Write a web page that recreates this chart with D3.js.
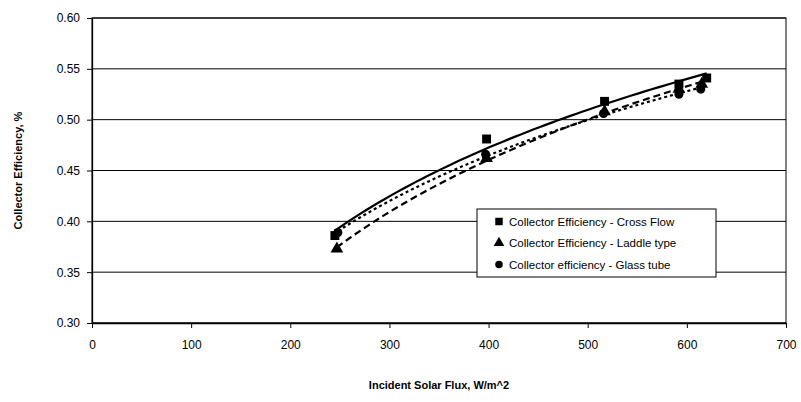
<!DOCTYPE html>
<html>
<head>
<meta charset="utf-8">
<script src="https://cdn.jsdelivr.net/npm/d3@7"></script>
<style>
  body { margin: 0; background: #fff; }
  text { font-family: "Liberation Sans", Arial, sans-serif; }
</style>
</head>
<body>
<div class="canvas"></div>
<script>
// data
const crossFlowFlux = [245, 398, 517, 592, 620];
const crossFlowEff = [0.386, 0.481, 0.518, 0.535, 0.541];
const laddleFlux = [247, 398, 517, 592, 615];
const laddleEff = [0.373, 0.462, 0.508, 0.530, 0.535];
const glassFlux = [248, 397, 516, 592, 614];
const glassEff = [0.389, 0.466, 0.506, 0.525, 0.530];

const seriesNames = [
  "Collector Efficiency - Cross Flow",
  "Collector Efficiency - Laddle type",
  "Collector efficiency - Glass tube"
];
const xTicks = [0, 100, 200, 300, 400, 500, 600, 700];
const yTicks = [0.30, 0.35, 0.40, 0.45, 0.50, 0.55, 0.60];

const series = [
  { name: seriesNames[0], xs: crossFlowFlux, ys: crossFlowEff, symbol: d3.symbolSquare, size: 80, dash: null },
  { name: seriesNames[1], xs: laddleFlux, ys: laddleEff, symbol: d3.symbolTriangle, size: 70, dash: "7,4" },
  { name: seriesNames[2], xs: glassFlux, ys: glassEff, symbol: d3.symbolCircle, size: 64, dash: "3,3" }
];

const width = 801, height = 402;
const margin = { left: 92, right: 15, top: 18, bottom: 79 };

const svg = d3.select(".canvas").append("svg")
  .attr("width", width)
  .attr("height", height);

const x = d3.scaleLinear().domain([0, 700]).range([margin.left, width - margin.right]);
const y = d3.scaleLinear().domain([0.30, 0.60]).range([height - margin.bottom, margin.top]);

// gridlines
svg.append("g")
  .selectAll("line")
  .data(yTicks)
  .join("line")
  .attr("x1", x(0)).attr("x2", x(700))
  .attr("y1", d => y(d)).attr("y2", d => y(d))
  .attr("stroke", "#000")
  .attr("stroke-width", 1);

// plot border
svg.append("rect")
  .attr("x", x(0)).attr("y", y(0.60))
  .attr("width", x(700) - x(0)).attr("height", y(0.30) - y(0.60))
  .attr("fill", "none").attr("stroke", "#000");

// axes
const xAxis = svg.append("g")
  .attr("transform", `translate(0,${y(0.30)})`)
  .call(d3.axisBottom(x).tickValues(xTicks).tickSize(5).tickPadding(12).tickSizeOuter(0));
const yAxis = svg.append("g")
  .attr("transform", `translate(${x(0)},0)`)
  .call(d3.axisLeft(y).tickValues(yTicks).tickFormat(d3.format(".2f")).tickSize(5).tickPadding(7).tickSizeOuter(0));

[xAxis, yAxis].forEach(g => {
  g.select(".domain").attr("stroke", "#000").attr("stroke-width", 1.3);
  g.selectAll(".tick line").attr("stroke", "#000");
  g.selectAll(".tick text")
    .attr("fill", "#000")
    .style("font-size", "12px")
    .style("font-family", "'Liberation Sans', Arial, sans-serif");
});

// logarithmic trendlines, fitted to each series
function logFit(xs, ys) {
  const lx = xs.map(Math.log);
  const mx = d3.mean(lx), my = d3.mean(ys);
  const a = d3.sum(lx, (v, i) => (v - mx) * (ys[i] - my)) / d3.sum(lx, v => (v - mx) ** 2);
  const b = my - a * mx;
  return v => a * Math.log(v) + b;
}

const line = d3.line().x(d => x(d[0])).y(d => y(d[1]));

series.forEach(s => {
  const f = logFit(s.xs, s.ys);
  const [lo, hi] = d3.extent(s.xs);
  const pts = d3.range(0, 61).map(i => {
    const v = lo + (hi - lo) * i / 60;
    return [v, f(v)];
  });
  svg.append("path")
    .datum(pts)
    .attr("d", line)
    .attr("fill", "none")
    .attr("stroke", "#000")
    .attr("stroke-width", 2.2)
    .attr("stroke-dasharray", s.dash);
});

// markers
series.forEach(s => {
  svg.append("g")
    .selectAll("path")
    .data(s.xs.map((v, i) => [v, s.ys[i]]))
    .join("path")
    .attr("transform", d => `translate(${x(d[0])},${y(d[1])})`)
    .attr("d", d3.symbol().type(s.symbol).size(s.size))
    .attr("fill", "#000");
});

// legend
const legend = svg.append("g").attr("transform", "translate(477,209)");
legend.append("rect")
  .attr("width", 239).attr("height", 68)
  .attr("fill", "#fff").attr("stroke", "#000");
series.forEach((s, i) => {
  const row = legend.append("g").attr("transform", `translate(22,${12.5 + i * 21.5})`);
  row.append("path")
    .attr("d", d3.symbol().type(s.symbol).size(s.size * 0.7))
    .attr("fill", "#000");
  row.append("text")
    .attr("x", 10).attr("y", 4)
    .style("font-size", "11.5px")
    .text(s.name);
});

// axis titles
svg.append("text")
  .attr("x", (x(0) + x(700)) / 2)
  .attr("y", 389)
  .attr("text-anchor", "middle")
  .style("font-size", "11px")
  .style("font-weight", "bold")
  .text("Incident Solar Flux, W/m^2");

svg.append("text")
  .attr("transform", `translate(22,${(y(0.30) + y(0.60)) / 2}) rotate(-90)`)
  .attr("text-anchor", "middle")
  .style("font-size", "11px")
  .style("font-weight", "bold")
  .text("Collector Efficiency, %");
</script>
</body>
</html>
